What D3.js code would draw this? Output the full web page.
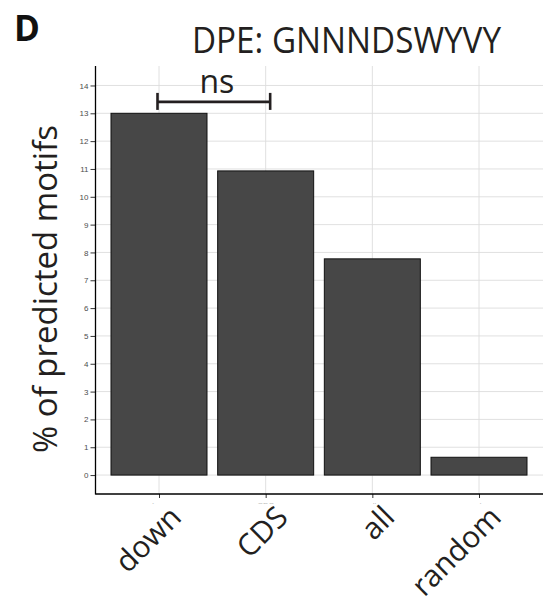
<!DOCTYPE html>
<html><head><meta charset="utf-8">
<script src="https://cdn.jsdelivr.net/npm/d3@7"></script>
<style>html,body{margin:0;padding:0;background:#fff;}</style>
</head><body>
<script>
const categories = ["down", "CDS", "all", "random"];
const values = [13.0, 10.93, 7.77, 0.64];
const yTicks = [0,1,2,3,4,5,6,7,8,9,10,11,12,13,14];
const title = "DPE: GNNNDSWYVY";
const panelLabel = "D";
const yLabel = "% of predicted motifs";
const sigPair = ["down", "CDS"];
const sigLabel = "ns";
const sigLevel = 13.41;

const W = 553, H = 608;
const svg = d3.select("body").append("svg").attr("width", W).attr("height", H);
const P = {left: 95.5, right: 543, top: 66, bottom: 494};

const x = d3.scalePoint().domain(categories).range([95, 543]).padding(0.6);
const step = x.step();
const bw = step * 0.9;
const y = d3.scaleLinear().domain([-0.68, 14.7]).range([P.bottom, P.top]);

// grid
const g = svg.append("g");
g.selectAll("line.h").data(yTicks).enter().append("line")
  .attr("x1", P.left).attr("x2", P.right)
  .attr("y1", d => y(d)).attr("y2", d => y(d))
  .attr("stroke", "#dcdcdc").attr("stroke-width", 0.9);
g.selectAll("line.v").data(categories).enter().append("line")
  .attr("x1", d => x(d)).attr("x2", d => x(d))
  .attr("y1", P.top).attr("y2", P.bottom)
  .attr("stroke", "#dcdcdc").attr("stroke-width", 0.9);

// bars
svg.selectAll("rect.bar").data(categories).enter().append("rect")
  .attr("x", d => x(d) - bw/2).attr("width", bw)
  .attr("y", (d,i) => y(values[i])).attr("height", (d,i) => y(0) - y(values[i]))
  .attr("fill", "#474747").attr("stroke", "#111").attr("stroke-width", 1);

// y axis
const ya = svg.append("g").attr("transform", `translate(${P.left},0)`)
  .call(d3.axisLeft(y).tickValues(yTicks).tickSize(5).tickPadding(2));
ya.select(".domain").remove();
ya.selectAll(".tick line").attr("stroke", "#333").attr("stroke-width", 1);
ya.selectAll(".tick text").attr("fill", "#4d4d4d").style("font-family", "Liberation Sans, Arial, sans-serif").style("font-size", "8px");
svg.append("line").attr("x1", P.left).attr("x2", P.left).attr("y1", P.top).attr("y2", P.bottom + 0.5)
  .attr("stroke", "#000").attr("stroke-width", 1.3);

// x axis
const xa = svg.append("g").attr("transform", `translate(0,${P.bottom})`)
  .call(d3.axisBottom(x).tickSize(4).tickFormat(""));
xa.select(".domain").remove();
xa.selectAll(".tick line").attr("stroke", "#333").attr("stroke-width", 1);
svg.append("line").attr("x1", P.left).attr("x2", P.right).attr("y1", P.bottom).attr("y2", P.bottom)
  .attr("stroke", "#000").attr("stroke-width", 1.3);

// residual tiny labels (clipped)
svg.append("clipPath").attr("id", "cl").append("rect").attr("x", 90).attr("y", 500.5).attr("width", 460).attr("height", 3);
svg.append("g").attr("clip-path", "url(#cl)").selectAll("text").data(categories).enter().append("text")
  .attr("x", d => x(d)).attr("y", 508).attr("text-anchor", "middle")
  .attr("fill", "#777").style("font-family", "Liberation Sans, Arial, sans-serif").style("font-size", "8px")
  .text(d => d);

// big rotated x labels
svg.selectAll("text.xl").data(categories).enter().append("text")
  .attr("transform", d => `translate(${x(d) + 24},${519}) rotate(-45)`)
  .attr("text-anchor", "end")
  .attr("fill", "#231f20").style("font-family", "Open Sans, sans-serif").style("font-size", "30px")
  .text(d => d);

// y label
svg.append("text")
  .attr("transform", `translate(57,${289}) rotate(-90)`)
  .attr("text-anchor", "middle")
  .attr("fill", "#231f20").style("font-family", "Open Sans, sans-serif").style("font-size", "32px")
  .attr("textLength", 328).attr("lengthAdjust", "spacingAndGlyphs")
  .text(yLabel);

// title
svg.append("text").attr("x", 192).attr("y", 53)
  .attr("fill", "#231f20").style("font-family", "Open Sans, sans-serif").style("font-size", "36px")
  .attr("textLength", 309).attr("lengthAdjust", "spacingAndGlyphs")
  .text(title);

// panel label
svg.append("text").attr("x", 14).attr("y", 40.5)
  .attr("fill", "#111").style("font-family", "Open Sans, sans-serif").style("font-weight", "bold").style("font-size", "35px")
  .text(panelLabel);

// significance bracket
const bx1 = x(sigPair[0]) - 1.5, bx2 = x(sigPair[1]) + 4.5, by = y(sigLevel);
const br = svg.append("g").attr("stroke", "#231f20").attr("stroke-width", 2.6);
br.append("line").attr("x1", bx1).attr("x2", bx2).attr("y1", by).attr("y2", by);
br.append("line").attr("x1", bx1).attr("x2", bx1).attr("y1", by - 9).attr("y2", by + 8);
br.append("line").attr("x1", bx2).attr("x2", bx2).attr("y1", by - 9).attr("y2", by + 8);
svg.append("text").attr("x", (bx1 + bx2) / 2 + 3).attr("y", 93.3).attr("text-anchor", "middle")
  .attr("fill", "#231f20").style("font-family", "Open Sans, sans-serif").style("font-size", "32px")
  .text(sigLabel);
</script>
</body></html>
